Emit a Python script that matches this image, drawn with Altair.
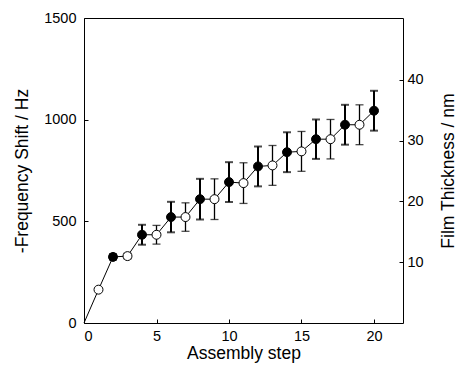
import altair as alt
import pandas as pd

steps = list(range(1, 21))
freq = [164, 325, 329, 434, 434, 521, 521, 609, 609, 693,
        688, 770, 775, 840, 844, 904, 904, 975, 975, 1044]
err = [0, 14, 14, 49, 46, 75, 70, 100, 100, 98,
       100, 98, 98, 98, 98, 97, 97, 98, 98, 98]
kind = ["open", "filled"] * 10

x_ticks = [0, 5, 10, 15, 20]
y_ticks = [0, 500, 1000, 1500]
nm_ticks = [10, 20, 30, 40]

df = pd.DataFrame({"step": steps, "freq": freq, "err": err, "kind": kind})
df["lo"] = df["freq"] - df["err"]
df["hi"] = df["freq"] + df["err"]

line_df = pd.DataFrame({"step": [0] + steps, "freq": [0] + freq})

FONT = "Liberation Sans"

X = alt.X("step:Q", scale=alt.Scale(domain=[0, 22], nice=False),
          axis=alt.Axis(values=x_ticks, title="Assembly step", offset=-4,
                        domain=False, tickSize=4, labelPadding=6,
                        titlePadding=2, grid=False, format="d"))
Y = alt.Y("freq:Q", scale=alt.Scale(domain=[0, 1500], nice=False),
          axis=alt.Axis(values=y_ticks, title="-Frequency Shift / Hz",
                        offset=-4, domain=False, tickSize=4, labelPadding=8,
                        titlePadding=12, grid=False, format="d"))

line = alt.Chart(line_df).mark_line(color="black", strokeWidth=1).encode(x=X, y=Y)

base = alt.Chart(df).transform_filter("datum.err > 0")

def bars(k, w):
    b = base.transform_filter(f"datum.kind == '{k}'")
    r = b.mark_rule(color="black", strokeWidth=w).encode(
        x="step:Q", y="lo:Q", y2="hi:Q")
    t1 = b.mark_tick(color="black", orient="horizontal", size=8, thickness=w).encode(
        x="step:Q", y="lo:Q")
    t2 = b.mark_tick(color="black", orient="horizontal", size=8, thickness=w).encode(
        x="step:Q", y="hi:Q")
    return [r, t1, t2]

points = alt.Chart(df).mark_point(shape="circle", filled=True, size=80,
                                  stroke="black", strokeWidth=1, opacity=1).encode(
    x="step:Q", y="freq:Q",
    fill=alt.condition("datum.kind == 'filled'", alt.value("black"), alt.value("white")))

data_layer = alt.layer(line, *bars("filled", 2), *bars("open", 1.3), points)

nm_df = pd.DataFrame({"nm": [0]})
nm_layer = alt.Chart(nm_df).mark_point(opacity=0).encode(
    y=alt.Y("nm:Q", scale=alt.Scale(domain=[0, 50.2], nice=False),
            axis=alt.Axis(orient="right", values=nm_ticks, title="Film Thickness / nm",
                          offset=-4, domain=False, tickSize=4, labelPadding=4,
                          titleAngle=270, titleBaseline="top", titlePadding=16,
                          grid=False, format="d")))

chart = alt.layer(data_layer, nm_layer).resolve_scale(y="independent").properties(
    width=319, height=305,
    autosize=alt.AutoSizeParams(type="none"),
    padding={"left": 76, "top": 10, "right": 57, "bottom": 42},
).configure_view(stroke="black", strokeWidth=1).configure_axis(
    labelFont=FONT, titleFont=FONT, labelFontSize=14.5, titleFontSize=17.5,
    titleFontWeight="normal", labelColor="black", titleColor="black",
    tickColor="black", tickWidth=1)

chart.save("out.html", embed_options={"renderer": "svg", "actions": False})
